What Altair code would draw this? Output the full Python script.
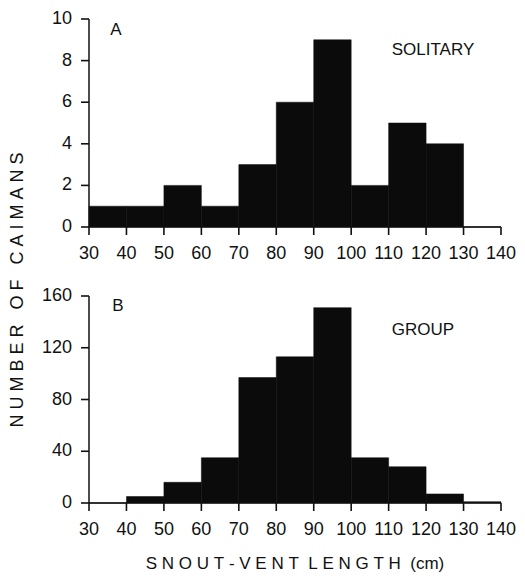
import altair as alt
import pandas as pd

bin_start = [30, 40, 50, 60, 70, 80, 90, 100, 110, 120, 130]
bin_end = [40, 50, 60, 70, 80, 90, 100, 110, 120, 130, 140]
solitary = [1, 1, 2, 1, 3, 6, 9, 2, 5, 4, 0]
group = [0, 5, 16, 35, 97, 113, 151, 35, 28, 7, 1]
x_ticks = [30, 40, 50, 60, 70, 80, 90, 100, 110, 120, 130, 140]
y_ticks_a = [0, 2, 4, 6, 8, 10]
y_ticks_b = [0, 40, 80, 120, 160]

FONT = "Liberation Sans"
INK = "#111111"
W = 412
TICK = 8
NB = "\u00a0"


def spaced(words, gap):
    return (NB * gap).join(NB.join(list(w)) for w in words)


Y_TITLE = spaced(["NUMBER", "OF", "CAIMANS"], 3)
X_TITLE = spaced(["SNOUT-VENT", "LENGTH"], 2) + NB * 2 + "(cm)"


def txt(s, x, y, size, **kw):
    return alt.Chart(pd.DataFrame({"t": [s]})).mark_text(
        font=FONT, fontSize=size, color=INK, baseline="middle", **kw
    ).encode(text="t:N", x=alt.value(x), y=alt.value(y))


def panel(counts, ymax, yticks, letter, letter_xy, label, label_xy, h, extra):
    xs = alt.Scale(domain=[30, 140], nice=False, zero=False)
    ys = alt.Scale(domain=[0, ymax], nice=False)
    df = pd.DataFrame({"start": bin_start, "end": bin_end, "count": counts})
    xdf = pd.DataFrame({"v": x_ticks, "lab": [str(v) for v in x_ticks]})
    ydf = pd.DataFrame({"v": yticks, "lab": [str(v) for v in yticks]})

    bars = alt.Chart(df).mark_rect(color="#0b0b0b", stroke="#0b0b0b", strokeWidth=0.5).encode(
        x=alt.X("start:Q", scale=xs, axis=None),
        x2="end:Q",
        y=alt.Y("count:Q", scale=ys, axis=None),
        y2=alt.datum(0),
    )
    xdom = alt.Chart(xdf.head(1)).mark_rule(color=INK, strokeWidth=1.5).encode(
        x=alt.value(0), x2=alt.value(W), y=alt.value(h))
    ydom = alt.Chart(ydf.head(1)).mark_rule(color=INK, strokeWidth=1.5).encode(
        x=alt.value(0), y=alt.value(0), y2=alt.value(h))
    xt = alt.Chart(xdf).mark_tick(color=INK, thickness=1.6, size=TICK, opacity=1).encode(
        x=alt.X("v:Q", scale=xs, axis=None), y=alt.value(h + TICK / 2))
    yt = alt.Chart(ydf).mark_tick(color=INK, thickness=1.6, size=TICK, opacity=1).encode(
        y=alt.Y("v:Q", scale=ys, axis=None), x=alt.value(-TICK / 2))
    xl = alt.Chart(xdf).mark_text(font=FONT, fontSize=18, color=INK, align="center",
                                  baseline="middle").encode(
        x=alt.X("v:Q", scale=xs, axis=None), y=alt.value(h + 27), text="lab:N")
    yl = alt.Chart(ydf).mark_text(font=FONT, fontSize=18, color=INK, align="right",
                                  baseline="middle").encode(
        y=alt.Y("v:Q", scale=ys, axis=None), x=alt.value(-TICK - 9), text="lab:N")
    t1 = txt(letter, letter_xy[0], letter_xy[1], 17, align="center")
    t2 = txt(label, label_xy[0], label_xy[1], 17, align="center")
    return alt.layer(bars, xdom, ydom, xl, yl, t1, t2, xt, yt, *extra).properties(width=W, height=h)


HB = 207
y_title = txt(Y_TITLE, -71, -6, 18, align="center", angle=270)
x_title = txt(X_TITLE, W / 2, HB + 61, 17, align="center")

pa = panel(solitary, 10, y_ticks_a, "A", (27, 11), "SOLITARY", (344, 31), 208, [])
pb = panel(group, 160, y_ticks_b, "B", (29, 10), "GROUP", (334, 34), HB, [y_title, x_title])

chart = alt.vconcat(pa, pb, spacing=69, bounds="flush").properties(
    background="white", padding={"left": 0, "top": 2, "right": 0, "bottom": 0}
).configure_view(stroke=None)

chart.save("out.html", embed_options={"renderer": "svg", "actions": False})
